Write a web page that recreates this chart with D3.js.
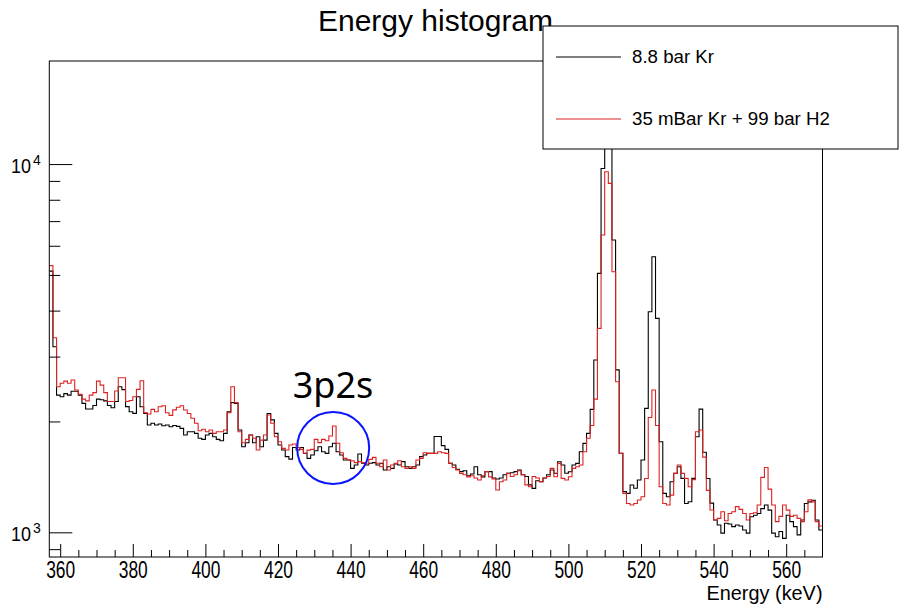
<!DOCTYPE html>
<html>
<head>
<meta charset="utf-8">
<script src="https://cdn.jsdelivr.net/npm/d3@7"></script>
<style>
body { margin: 0; background: #fff; }
svg { display: block; }
</style>
</head>
<body>
<svg width="901" height="605"></svg>
<script>
// 1 keV bins, first bin starts at 357 keV
var binLow = 357;
var binWidth = 1;

// 8.8 bar Kr
var krCounts = [
	5120, 3190, 2358, 2335, 2380, 2358, 2417, 2417, 2358, 2240,
	2163, 2163, 2210, 2300, 2290, 2275, 2210, 2180, 2265, 2486,
	2440, 2195, 2126, 2104, 2334, 2193, 2104, 1956, 1977, 1956,
	1968, 1947, 1956, 1935, 1950, 1940, 1916, 1837, 1875, 1875,
	1856, 1800, 1788, 1837, 1856, 1818, 1788, 1773, 1856, 2124,
	2250, 2240, 1896, 1708, 1751, 1837, 1751, 1818, 1708, 1780,
	2103, 2020, 1856, 1726, 1673, 1605, 1580, 1700, 1673, 1700,
	1640, 1588, 1622, 1665, 1708, 1655, 1638, 1708, 1745, 1655,
	1622, 1572, 1572, 1492, 1523, 1632, 1540, 1523, 1540, 1546,
	1523, 1540, 1476, 1507, 1492, 1533, 1523, 1556, 1507, 1492,
	1507, 1523, 1605, 1622, 1638, 1638, 1820, 1820, 1720, 1680,
	1540, 1523, 1483, 1462, 1470, 1425, 1440, 1507, 1433, 1414,
	1462, 1462, 1405, 1396, 1405, 1433, 1446, 1452, 1462, 1476,
	1433, 1418, 1345, 1316, 1381, 1372, 1405, 1433, 1476, 1447,
	1555, 1523, 1447, 1460, 1523, 1539, 1655, 1744, 1857, 2157,
	2937, 5050, 9730, 13500, 12500, 6218, 2761, 1638, 1290, 1276,
	1344, 1317, 1387, 1572, 2171, 3972, 5602, 3811, 1762, 1276,
	1249, 1372, 1446, 1507, 1401, 1198, 1211, 1401, 1818, 2160,
	1650, 1400, 1200, 1080, 1047, 995, 1058, 1053, 1036, 1047,
	1040, 1015, 995, 1102, 1113, 1125, 1160, 1186, 1149, 995,
	973, 1005, 963, 1113, 1069, 1036, 984, 1080, 1198, 1210,
	1222, 1080, 1015
];

// 35 mBar Kr + 99 bar H2
var h2Counts = [
	5300, 3376, 2486, 2539, 2574, 2539, 2592, 2434, 2371, 2300,
	2275, 2358, 2395, 2574, 2510, 2395, 2265, 2265, 2420, 2629,
	2629, 2265, 2280, 2334, 2444, 2580, 2113, 2095, 2157, 2126,
	2193, 2207, 2113, 2078, 2150, 2185, 2207, 2148, 2103, 2040,
	1977, 1888, 1905, 1875, 1896, 1856, 1875, 1875, 1896, 2112,
	2486, 2250, 1875, 1751, 1788, 1837, 1800, 1673, 1780, 1837,
	2082, 1977, 1818, 1762, 1690, 1673, 1726, 1737, 1700, 1680,
	1640, 1672, 1680, 1788, 1752, 1788, 1773, 1826, 1945, 1745,
	1645, 1588, 1572, 1565, 1546, 1556, 1546, 1533, 1578, 1598,
	1540, 1507, 1572, 1476, 1523, 1540, 1565, 1507, 1492, 1507,
	1492, 1572, 1588, 1645, 1638, 1638, 1638, 1655, 1645, 1638,
	1540, 1500, 1476, 1446, 1433, 1414, 1425, 1405, 1387, 1425,
	1462, 1414, 1396, 1303, 1372, 1387, 1446, 1418, 1433, 1470,
	1433, 1345, 1330, 1418, 1405, 1372, 1405, 1418, 1492, 1415,
	1539, 1401, 1387, 1415, 1492, 1507, 1523, 1655, 1800, 1950,
	2300, 3580, 6416, 9530, 8864, 5102, 2564, 1638, 1276, 1198,
	1186, 1198, 1224, 1249, 1400, 2050, 2434, 1950, 1330, 1198,
	1186, 1262, 1446, 1523, 1446, 1401, 1330, 1390, 1876, 1896,
	1600, 1300, 1150, 1080, 1091, 1137, 1075, 1125, 1137, 1174,
	1154, 1125, 1080, 1125, 1130, 1186, 1410, 1500, 1310, 1186,
	1069, 1105, 1186, 1149, 1105, 1113, 1091, 1069, 1137, 1225,
	1210, 1069, 1040
];

var seriesNames = ['8.8 bar Kr', '35 mBar Kr + 99 bar H2'];
var seriesColors = ['#000000', '#dd2222'];

var xMajor = [360, 380, 400, 420, 440, 460, 480, 500, 520, 540, 560];
var xMinor = [365, 370, 375, 385, 390, 395, 405, 410, 415, 425, 430, 435, 445, 450, 455,
	465, 470, 475, 485, 490, 495, 505, 510, 515, 525, 530, 535, 545, 550, 555, 565];
var yMajor = [1000, 10000];
var yMajorExp = ['3', '4'];
var yMinor = [900, 2000, 3000, 4000, 5000, 6000, 7000, 8000, 9000];

var width = 901;
var height = 605;
var frame = { left: 49.3, right: 822.5, top: 61, bottom: 557 };

var svg = d3.select('svg')
	.attr('width', width)
	.attr('height', height);

var sans = '"Liberation Sans", Arial, sans-serif';

var xScale = d3.scaleLinear()
	.domain([binLow, binLow + krCounts.length * binWidth])
	.range([frame.left, frame.right]);

var yScale = d3.scaleLog()
	.domain([857, 19050])
	.range([frame.bottom, frame.top]);

// title (legend is drawn over it later)
svg.append('text')
	.attr('x', 435.5)
	.attr('y', 31)
	.attr('text-anchor', 'middle')
	.style('font-family', sans)
	.style('font-size', '30px')
	.text('Energy histogram');

// step outline, ROOT style
function steps(counts) {
	var pts = [];
	counts.forEach(function(c, i) {
		var lo = binLow + i * binWidth;
		pts.push([xScale(lo), yScale(c)]);
		pts.push([xScale(lo + binWidth), yScale(c)]);
	});
	return d3.line()(pts);
}

var plot = svg.append('g');
[krCounts, h2Counts].forEach(function(counts, i) {
	plot.append('path')
		.attr('d', steps(counts))
		.attr('fill', 'none')
		.attr('stroke', seriesColors[i])
		.attr('stroke-width', 1.1);
});

// frame
svg.append('rect')
	.attr('x', frame.left)
	.attr('y', frame.top)
	.attr('width', frame.right - frame.left)
	.attr('height', frame.bottom - frame.top)
	.attr('fill', 'none')
	.attr('stroke', '#000')
	.attr('stroke-width', 1);

// x-axis: ticks point into the frame
var xAxis = svg.append('g')
	.attr('class', 'x-axis')
	.attr('transform', 'translate(0,' + frame.bottom + ')')
	.call(d3.axisBottom(xScale)
		.tickValues(xMajor)
		.tickSizeInner(-13)
		.tickSizeOuter(0)
		.tickPadding(4)
		.tickFormat(d3.format('d')));
xAxis.select('.domain').remove();
// ROOT's helvetica is narrower than ours, squeeze the labels
xAxis.selectAll('text')
	.style('font-family', sans)
	.style('font-size', '24px')
	.attr('textLength', 29)
	.attr('lengthAdjust', 'spacingAndGlyphs')
	.attr('fill', '#000');

var xAxisMinor = svg.append('g')
	.attr('transform', 'translate(0,' + frame.bottom + ')')
	.call(d3.axisBottom(xScale)
		.tickValues(xMinor)
		.tickSizeInner(-7)
		.tickSizeOuter(0)
		.tickFormat(''));
xAxisMinor.select('.domain').remove();

svg.append('text')
	.attr('x', frame.right)
	.attr('y', 600)
	.attr('text-anchor', 'end')
	.attr('textLength', 116)
	.attr('lengthAdjust', 'spacingAndGlyphs')
	.style('font-family', sans)
	.style('font-size', '21px')
	.text('Energy (keV)');

// y-axis (log)
var yAxis = svg.append('g')
	.attr('transform', 'translate(' + frame.left + ',0)')
	.call(d3.axisLeft(yScale)
		.tickValues(yMajor)
		.tickSizeInner(-23)
		.tickSizeOuter(0)
		.tickFormat(''));
yAxis.select('.domain').remove();

var yAxisMinor = svg.append('g')
	.attr('transform', 'translate(' + frame.left + ',0)')
	.call(d3.axisLeft(yScale)
		.tickValues(yMinor)
		.tickSizeInner(-11)
		.tickSizeOuter(0)
		.tickFormat(''));
yAxisMinor.select('.domain').remove();

yMajor.forEach(function(v, i) {
	svg.append('text')
		.attr('x', 11)
		.attr('y', yScale(v) + 9)
		.attr('textLength', 20)
		.attr('lengthAdjust', 'spacingAndGlyphs')
		.style('font-family', sans)
		.style('font-size', '21px')
		.text('10');
	svg.append('text')
		.attr('x', 33)
		.attr('y', yScale(v) + 1)
		.style('font-family', sans)
		.style('font-size', '14px')
		.text(yMajorExp[i]);
});

// annotation
svg.append('text')
	.attr('x', 333)
	.attr('y', 398)
	.attr('text-anchor', 'middle')
	.style('font-family', '"Noto Sans", "DejaVu Sans", sans-serif')
	.style('font-size', '36px')
	.text('3p2s');

svg.append('circle')
	.attr('cx', xScale(435.2))
	.attr('cy', 448)
	.attr('r', 36)
	.attr('fill', 'none')
	.attr('stroke', '#0a14ff')
	.attr('stroke-width', 2);

// legend
var legend = svg.append('g');
legend.append('rect')
	.attr('x', 543)
	.attr('y', 26)
	.attr('width', 355)
	.attr('height', 123)
	.attr('fill', '#fff')
	.attr('stroke', '#000')
	.attr('stroke-width', 1);

var legendY = [57, 119];
seriesNames.forEach(function(name, i) {
	legend.append('line')
		.attr('x1', 556)
		.attr('x2', 621)
		.attr('y1', legendY[i])
		.attr('y2', legendY[i])
		.attr('stroke', seriesColors[i])
		.attr('stroke-width', 1);
	legend.append('text')
		.attr('x', 632)
		.attr('y', legendY[i] + 6)
		.style('font-family', sans)
		.style('font-size', '18.7px')
		.text(name);
});
</script>
</body>
</html>
